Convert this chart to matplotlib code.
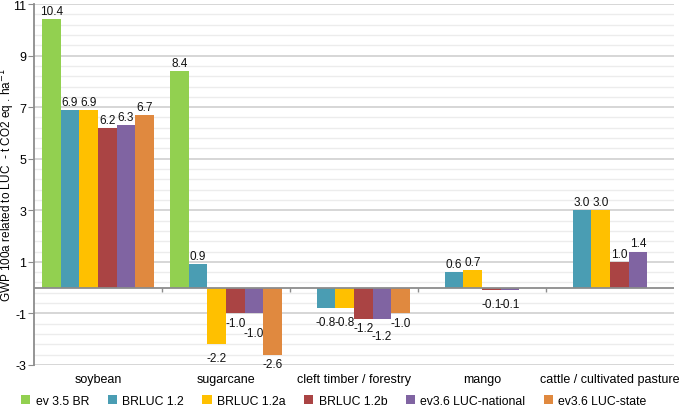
import matplotlib.pyplot as plt
import numpy as np

plt.rcParams['font.family'] = ['Liberation Sans', 'DejaVu Sans']
plt.rcParams['axes.unicode_minus'] = False

categories = ['soybean', 'sugarcane', 'cleft timber / forestry', 'mango', 'cattle / cultivated pasture']
series = ['ev 3.5 BR', 'BRLUC 1.2', 'BRLUC 1.2a', 'BRLUC 1.2b', 'ev3.6 LUC-national', 'ev3.6 LUC-state']
ev35 = [10.4, 8.4, np.nan, np.nan, np.nan]
brluc12 = [6.9, 0.9, -0.8, 0.6, 3.0]
brluc12a = [6.9, -2.2, -0.8, 0.7, 3.0]
brluc12b = [6.2, -1.0, -1.2, -0.1, 1.0]
national = [6.3, -1.0, -1.2, -0.1, 1.4]
state = [6.7, -2.6, -1.0, np.nan, np.nan]
values = [ev35, brluc12, brluc12a, brluc12b, national, state]

colors = ['#92D050', '#4A9DB3', '#FFC000', '#AA4444', '#8064A2', '#E0893F']

# extra downward shift (points) for some negative labels, as in the original
label_shift = {(1, 2): -3, (2, 2): -3, (2, 1): -3, (4, 1): -7, (4, 2): -6, (3, 3): -3, (4, 3): -3}

fig = plt.figure(figsize=(6.85, 4.10), dpi=100)
ax = fig.add_axes([34/685, 44/410, 640/685, 361/410])

x = np.arange(len(categories))
w = 0.875 / len(series)

for i, (name, vals) in enumerate(zip(series, values)):
    pos = x - 0.4375 + w * (i + 0.5)
    vals = np.array(vals)
    ax.bar(pos, vals, width=w, color=colors[i], label=name, zorder=3)
    for j, v in enumerate(vals):
        if np.isnan(v):
            continue
        if v >= 0:
            off = 1.5
            va = 'bottom'
        else:
            off = -2.5 + label_shift.get((i, j), 0)
            va = 'top'
        ax.annotate('%.1f' % v, (pos[j], v), xytext=(0, off), textcoords='offset points',
                    ha='center', va=va, fontsize=8.5, color='#111111', zorder=4)

ax.set_xlim(-0.5, len(categories) - 0.5)
ax.set_ylim(-3, 11)
ax.set_yticks(np.arange(-3, 12, 2))
ax.set_yticks(np.arange(-3, 11.01, 0.4), minor=True)
ax.grid(axis='y', which='major', color='#d0d0d0', linewidth=1.2, zorder=0)
ax.grid(axis='y', which='minor', color='#ececec', linewidth=1.0, zorder=0)
ax.axhline(0, color='#8c8c8c', linewidth=1.3, zorder=5)
ax.vlines(np.arange(0.5, len(categories) - 0.5, 1), -0.18, 0, color='#8c8c8c', linewidth=1.0, zorder=5)

ax.set_xticks(x)
ax.set_xticklabels(categories, fontsize=9)
ax.tick_params(axis='x', length=0, pad=6)
ax.tick_params(axis='y', which='major', length=4, color='#8c8c8c', labelsize=9, pad=1.5)
ax.tick_params(axis='y', which='minor', length=0)

for s in ['top', 'right', 'bottom']:
    ax.spines[s].set_visible(False)
ax.spines['left'].set_color('#8c8c8c')
ax.spines['left'].set_linewidth(1.3)

ax.set_ylabel('GWP 100a related to LUC  - t CO2 eq . ha$^{-1}$', fontsize=8.5)
ax.yaxis.set_label_coords(-16.5/640, 0.5)

fig.legend(loc='center', bbox_to_anchor=(0.4876, 0.0195), ncol=6, frameon=False,
           fontsize=8.8, handlelength=0.75, handleheight=0.75, handletextpad=0.45,
           columnspacing=1.5, borderpad=0, borderaxespad=0)

fig.savefig('out.png', dpi=100)
